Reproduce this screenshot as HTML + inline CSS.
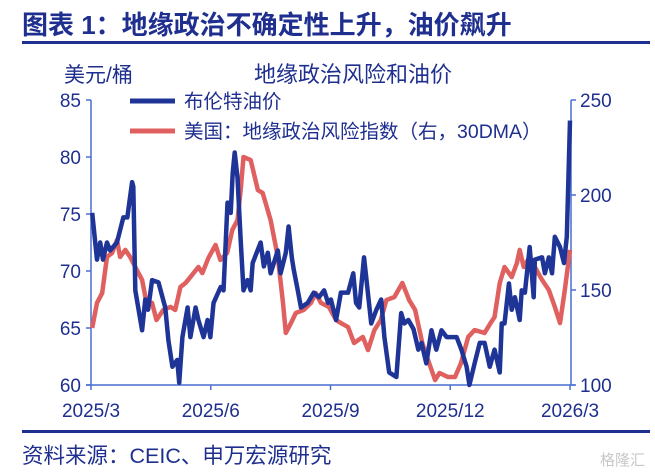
<!DOCTYPE html>
<html><head><meta charset="utf-8">
<style>
body{margin:0;width:655px;height:474px;background:#fff;overflow:hidden;font-family:"Liberation Sans","Noto Sans CJK SC",sans-serif;}
svg{position:absolute;left:0;top:0}
</style></head><body>
<svg id="c" width="655" height="474">
<text x="22" y="34" font-size="26" font-weight="bold" fill="#1f2f8f">图表 1：地缘政治不确定性上升，油价飙升</text>
<rect x="22" y="41" width="628" height="3" fill="#1f2f8f"/>
<text x="353" y="82" font-size="22" fill="#1f2f8f" text-anchor="middle">地缘政治风险和油价</text>
<text x="64" y="82" font-size="21" fill="#1f2f8f">美元/桶</text>
<g id="axes"></g>
<g id="series"></g>
<line x1="130" y1="101" x2="175" y2="101" stroke="#1f3497" stroke-width="5"/>
<text x="184" y="108" font-size="19.5" fill="#1f2f8f">布伦特油价</text>
<line x1="130" y1="131" x2="175" y2="131" stroke="#e06060" stroke-width="5"/>
<text x="184" y="138" font-size="19.5" fill="#1f2f8f">美国：地缘政治风险指数（右，30DMA）</text>
<rect x="22" y="430" width="628" height="3" fill="#1f2f8f"/>
<text x="22" y="463" font-size="21.5" fill="#1f2f8f">资料来源：CEIC、申万宏源研究</text>
<text x="600" y="465" font-size="15" fill="#c8c8c8">格隆汇</text>
</svg>
<script>
const xTickLabels=["2025/3","2025/6","2025/9","2025/12","2026/3"];
const leftTicks=[60,65,70,75,80,85];
const rightTicks=[100,150,200,250];
const brentT=[0.03,0.15,0.23,0.30,0.40,0.48,0.65,0.81,0.91,1.03,1.06,1.11,1.28,1.36,1.43,1.53,1.69,1.86,1.94,2.04,2.16,2.21,2.29,2.42,2.49,2.62,2.69,2.82,2.92,2.99,3.07,3.25,3.32,3.42,3.50,3.55,3.60,3.67,3.75,3.82,3.92,4.00,4.05,4.25,4.33,4.43,4.50,4.68,4.75,4.88,4.95,5.03,5.08,5.18,5.26,5.43,5.58,5.71,5.84,5.94,6.01,6.14,6.26,6.44,6.57,6.64,6.72,6.84,7.02,7.15,7.27,7.35,7.47,7.65,7.77,7.85,7.95,8.08,8.20,8.28,8.40,8.53,8.65,8.78,8.91,9.16,9.28,9.41,9.48,9.61,9.74,9.86,9.99,10.11,10.24,10.29,10.36,10.47,10.54,10.62,10.74,10.79,10.87,10.99,11.09,11.12,11.30,11.37,11.47,11.55,11.62,11.75,11.85,11.92,12.00];
const brentV=[75.1,71.0,72.5,71.0,72.5,71.8,72.5,74.7,74.7,77.8,77.4,68.3,64.8,67.5,66.6,69.2,69.0,66.8,63.9,61.6,62.2,60.2,64.2,66.8,64.2,66.8,65.7,64.2,65.7,64.2,67.2,68.6,68.3,76.0,75.1,78.6,80.4,78.2,72.7,68.3,69.2,68.3,70.7,72.5,70.4,71.6,69.8,71.8,69.8,71.6,73.9,71.2,70.1,68.3,66.8,67.2,68.1,67.7,68.3,67.2,67.5,65.7,68.1,68.1,69.8,67.2,66.8,71.2,65.4,66.6,67.5,64.2,61.1,60.7,66.3,65.4,65.7,64.9,63.1,63.7,61.9,64.8,63.1,64.8,64.2,64.2,63.1,61.6,60.0,61.9,63.7,63.7,61.6,63.1,61.1,65.4,65.4,68.9,66.6,67.7,65.7,68.3,68.1,72.1,67.7,71.0,71.2,69.8,71.2,69.8,73.0,72.1,70.7,73.0,83.2];
const gprT=[0.03,0.15,0.28,0.40,0.53,0.65,0.73,0.86,0.98,1.11,1.28,1.41,1.53,1.64,1.81,1.99,2.11,2.24,2.37,2.49,2.69,2.79,2.94,3.12,3.24,3.41,3.54,3.67,3.75,3.82,4.00,4.18,4.30,4.50,4.68,4.81,4.88,5.01,5.13,5.33,5.51,5.63,5.76,5.96,6.14,6.26,6.44,6.59,6.81,6.94,7.10,7.26,7.40,7.60,7.80,7.97,8.12,8.30,8.47,8.62,8.73,8.94,9.12,9.27,9.45,9.61,9.86,10.01,10.11,10.24,10.36,10.54,10.67,10.74,10.84,10.99,11.12,11.30,11.47,11.62,11.75,11.87,12.00];
const gprV=[130.0,143.2,148.4,167.4,169.5,176.3,167.4,171.1,167.4,162.1,155.3,141.1,143.2,134.2,139.5,141.1,139.5,151.6,153.7,156.8,162.1,158.9,166.8,173.7,165.8,169.5,181.6,186.8,202.6,220.0,218.4,202.6,201.1,186.8,167.4,143.2,127.4,132.6,137.9,139.5,143.2,148.4,143.2,141.1,134.2,132.6,130.5,122.1,125.3,118.4,128.9,134.2,144.7,146.3,153.7,144.7,139.5,122.1,111.6,102.6,106.3,104.2,104.2,111.6,125.3,128.9,127.4,132.6,135.8,153.7,162.1,156.8,164.2,171.1,162.1,167.4,162.1,155.3,150.0,141.1,132.6,150.0,171.1];
const X0=91,X1=570,YT=100,YB=385;
const xs=m=>X0+(X1-X0)*m/12;
const yL=v=>YB-(v-60)/25*(YB-YT);
const yR=v=>YB-(v-100)/150*(YB-YT);
const NS="http://www.w3.org/2000/svg";
function mk(tag,attrs,parent){const e=document.createElementNS(NS,tag);for(const k in attrs)e.setAttribute(k,attrs[k]);parent.appendChild(e);return e;}
const ax=document.getElementById('axes'),se=document.getElementById('series');
const AC="#4a6fd0",TC="#1f2f8f";
let e;
e=mk('line',{x1:X0,y1:YT,x2:X0,y2:YB,stroke:AC,'stroke-width':1.5},ax);


e=mk('line',{x1:X1+1,y1:YT,x2:X1+1,y2:YB,stroke:AC,'stroke-width':1.5},ax);


e=mk('line',{x1:X0-5,y1:YB,x2:X1+5,y2:YB,stroke:AC,'stroke-width':1.5},ax);


leftTicks.forEach(v=>{
 mk('line',{x1:X0-5,y1:yL(v),x2:X0,y2:yL(v),stroke:AC,'stroke-width':1.5},ax);
 e=mk('text',{x:81,y:yL(v)+7,'font-size':19,fill:TC,'text-anchor':'end'},ax);e.textContent=v;
 
 
});
rightTicks.forEach(v=>{
 mk('line',{x1:X1+1,y1:yR(v),x2:X1+6,y2:yR(v),stroke:AC,'stroke-width':1.5},ax);
 e=mk('text',{x:580,y:yR(v)+7,'font-size':19,fill:TC},ax);e.textContent=v;
 
 
});
xTickLabels.forEach((t,i)=>{
 const x=xs(i*3);
 mk('line',{x1:x,y1:YB,x2:x,y2:YB+5,stroke:AC,'stroke-width':1.5},ax);
 e=mk('text',{x:x,y:417,'font-size':19,fill:TC,'text-anchor':'middle'},ax);e.textContent=t;
 
 
});
e=mk('polyline',{points:gprT.map((t,i)=>xs(t)+','+yR(gprV[i])).join(' '),fill:'none',stroke:'#e06060','stroke-width':4.5,'stroke-linejoin':'round'},se);


e=mk('polyline',{points:brentT.map((t,i)=>xs(t)+','+yL(brentV[i])).join(' '),fill:'none',stroke:'#1f3497','stroke-width':4.5,'stroke-linejoin':'round'},se);


</script>
</body></html>
